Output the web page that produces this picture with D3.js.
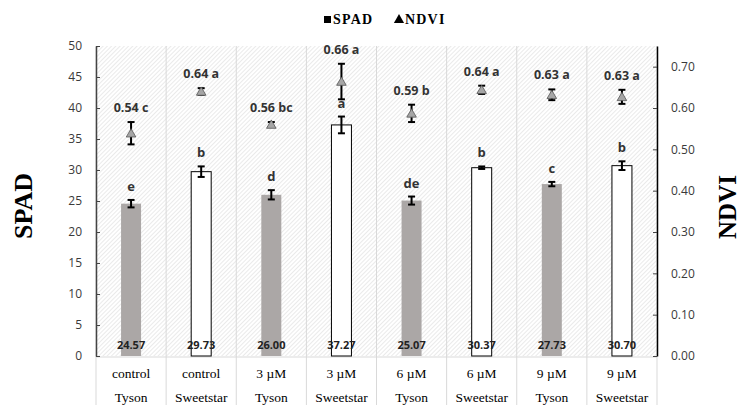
<!DOCTYPE html>
<html>
<head>
<meta charset="utf-8">
<script src="https://cdn.jsdelivr.net/npm/d3@7"></script>
<style>
  body { margin: 0; background: #fff; }
  svg { display: block; }
</style>
</head>
<body>
<div id="chart"></div>
<script>
// --- data ---
const treatments = ["control", "control", "3 µM", "3 µM", "6 µM", "6 µM", "9 µM", "9 µM"];
const cultivars = ["Tyson", "Sweetstar", "Tyson", "Sweetstar", "Tyson", "Sweetstar", "Tyson", "Sweetstar"];
const spad = [24.57, 29.73, 26.00, 37.27, 25.07, 30.37, 27.73, 30.70];
const spadErr = [0.6, 0.85, 0.75, 1.35, 0.65, 0.2, 0.35, 0.7];
const spadLetters = ["e", "b", "d", "a", "de", "b", "c", "b"];
const ndvi = [0.539, 0.640, 0.560, 0.664, 0.587, 0.644, 0.632, 0.627];
const ndviErr = [0.027, 0.008, 0.006, 0.043, 0.021, 0.010, 0.013, 0.017];
const ndviLetters = ["c", "a", "bc", "a", "b", "a", "a", "a"];
const spadTicks = [0, 5, 10, 15, 20, 25, 30, 35, 40, 45, 50];
const ndviTicks = [0, 0.1, 0.2, 0.3, 0.4, 0.5, 0.6, 0.7];

const width = 742, height = 405;
const plotL = 96, plotR = 657, plotT = 46, plotB = 356;
const sansFont = "'Open Sans', 'DejaVu Sans', sans-serif";
const serifFont = "'Liberation Serif', 'Times New Roman', serif";
const textColor = "#3a3a3a";

const svg = d3.select("#chart").append("svg")
    .attr("width", width)
    .attr("height", height);

// hatch background ("\\\" direction, very light)
const defs = svg.append("defs");
defs.append("pattern")
    .attr("id", "hatch")
    .attr("patternUnits", "userSpaceOnUse")
    .attr("width", 3).attr("height", 3)
    .attr("patternTransform", "rotate(45)")
    .append("line")
    .attr("x1", 0).attr("y1", 0).attr("x2", 0).attr("y2", 3)
    .attr("stroke", "#d6d6d6").attr("stroke-width", 1);

const idx = d3.range(treatments.length);
const x = d3.scaleBand().domain(idx).range([plotL, plotR]);
const yL = d3.scaleLinear().domain([0, 50]).range([plotB, plotT]);
const yR = d3.scaleLinear().domain([0, 0.75]).range([plotB, plotT]);
const barW = 20;

svg.append("rect")
    .attr("x", plotL).attr("y", plotT)
    .attr("width", plotR - plotL).attr("height", plotB - plotT)
    .attr("fill", "#fff");
svg.append("rect")
    .attr("x", plotL).attr("y", plotT)
    .attr("width", plotR - plotL).attr("height", plotB - plotT)
    .attr("fill", "url(#hatch)");

// category separators (plot area + label area)
svg.append("g")
    .selectAll("line")
    .data(d3.range(treatments.length + 1))
    .join("line")
    .attr("x1", i => plotL + i * x.bandwidth())
    .attr("x2", i => plotL + i * x.bandwidth())
    .attr("y1", plotT).attr("y2", height)
    .attr("stroke", "#d9d9d9").attr("stroke-width", 1);

svg.append("line")
    .attr("x1", plotL).attr("x2", plotR)
    .attr("y1", plotB + 1).attr("y2", plotB + 1)
    .attr("stroke", "#d9d9d9");

// --- SPAD bars ---
svg.append("g")
    .selectAll("rect")
    .data(idx)
    .join("rect")
    .attr("x", i => x(i) + x.bandwidth() / 2 - barW / 2)
    .attr("y", i => yL(spad[i]))
    .attr("width", barW)
    .attr("height", i => yL(0) - yL(spad[i]))
    .attr("fill", i => cultivars[i] === "Tyson" ? "#aba7a6" : "#fff")
    .attr("stroke", i => cultivars[i] === "Tyson" ? "none" : "#000")
    .attr("stroke-width", 1);

function errorBars(g, cx, yLo, yHi) {
    g.append("line")
        .attr("x1", cx).attr("x2", cx).attr("y1", yLo).attr("y2", yHi)
        .attr("stroke", "#000").attr("stroke-width", 2);
    [yLo, yHi].forEach(yy => g.append("line")
        .attr("x1", cx - 3.5).attr("x2", cx + 3.5).attr("y1", yy).attr("y2", yy)
        .attr("stroke", "#000").attr("stroke-width", 2));
}

const spadErrG = svg.append("g");
idx.forEach(i => {
    const cx = x(i) + x.bandwidth() / 2;
    errorBars(spadErrG, cx, yL(spad[i] - spadErr[i]), yL(spad[i] + spadErr[i]));
});

// SPAD letters
svg.append("g")
    .selectAll("text")
    .data(idx)
    .join("text")
    .attr("x", i => x(i) + x.bandwidth() / 2)
    .attr("y", i => yL(spad[i] + spadErr[i]) - 9)
    .attr("text-anchor", "middle")
    .style("font-family", sansFont).style("font-weight", "bold")
    .style("font-size", "13px").style("fill", "#333")
    .text(i => spadLetters[i]);

// SPAD values at the bottom
svg.append("g")
    .selectAll("text")
    .data(idx)
    .join("text")
    .attr("x", i => x(i) + x.bandwidth() / 2)
    .attr("y", plotB - 7)
    .attr("text-anchor", "middle")
    .style("font-family", sansFont).style("font-weight", "bold")
    .style("font-size", "11px").style("fill", "#222")
    .text(i => spad[i].toFixed(2));

// --- NDVI points ---
const ndviErrG = svg.append("g");
idx.forEach(i => {
    const cx = x(i) + x.bandwidth() / 2;
    errorBars(ndviErrG, cx, yR(ndvi[i] - ndviErr[i]), yR(ndvi[i] + ndviErr[i]));
});
svg.append("g")
    .selectAll("path")
    .data(idx)
    .join("path")
    .attr("d", d3.symbol(d3.symbolTriangle, 40))
    .attr("transform", i => `translate(${x(i) + x.bandwidth() / 2},${yR(ndvi[i]) + 1})`)
    .attr("fill", "#a6a6a6")
    .attr("stroke", "#555").attr("stroke-width", 0.8);

svg.append("g")
    .selectAll("text")
    .data(idx)
    .join("text")
    .attr("x", i => x(i) + x.bandwidth() / 2)
    .attr("y", i => yR(ndvi[i] + ndviErr[i]) - 10)
    .attr("text-anchor", "middle")
    .style("font-family", sansFont).style("font-weight", "bold")
    .style("font-size", "12.5px").style("fill", "#333")
    .text(i => `${ndvi[i].toFixed(2)} ${ndviLetters[i]}`);

// --- axes ---
const leftAxis = svg.append("g")
    .attr("transform", `translate(${plotL},0)`)
    .call(d3.axisLeft(yL).tickValues(spadTicks).tickSizeInner(-4).tickSizeOuter(0).tickPadding(14));
leftAxis.select(".domain").attr("stroke", "#444").attr("stroke-width", 1.5);
leftAxis.selectAll(".tick line").attr("stroke", "#444");
leftAxis.selectAll("text")
    .style("font-family", sansFont).style("font-size", "12px").style("fill", textColor);

const rightAxis = svg.append("g")
    .attr("transform", `translate(${plotR},0)`)
    .call(d3.axisRight(yR).tickValues(ndviTicks).tickFormat(d3.format(".2f"))
        .tickSizeInner(-4).tickSizeOuter(0).tickPadding(14));
rightAxis.select(".domain").attr("stroke", "#000").attr("stroke-width", 1.5);
rightAxis.selectAll(".tick line").attr("stroke", "#444");
rightAxis.selectAll("text")
    .style("font-family", sansFont).style("font-size", "12px").style("fill", textColor);

// category labels (two rows)
const catG = svg.append("g")
    .style("font-family", serifFont).style("font-size", "13.5px").style("fill", "#000");
catG.selectAll("text.treat")
    .data(idx)
    .join("text")
    .attr("class", "treat")
    .attr("x", i => x(i) + x.bandwidth() / 2)
    .attr("y", 378)
    .attr("text-anchor", "middle")
    .text(i => treatments[i]);
catG.selectAll("text.cult")
    .data(idx)
    .join("text")
    .attr("class", "cult")
    .attr("x", i => x(i) + x.bandwidth() / 2)
    .attr("y", 402)
    .attr("text-anchor", "middle")
    .text(i => cultivars[i]);

// axis titles
svg.append("text")
    .attr("transform", "translate(32,206) rotate(-90)")
    .attr("text-anchor", "middle")
    .style("font-family", serifFont).style("font-weight", "bold")
    .style("font-size", "26px").style("fill", "#000")
    .text("SPAD");
svg.append("text")
    .attr("transform", "translate(736,207) rotate(-90)")
    .attr("text-anchor", "middle")
    .style("font-family", serifFont).style("font-weight", "bold")
    .style("font-size", "25px").style("fill", "#000")
    .text("NDVI");

// legend
const legend = svg.append("g")
    .style("font-family", serifFont).style("font-weight", "bold")
    .style("font-size", "14px").style("letter-spacing", "1.2px").style("fill", "#000");
legend.append("rect").attr("x", 324).attr("y", 16).attr("width", 7).attr("height", 7).attr("fill", "#000");
legend.append("text").attr("x", 333).attr("y", 24).text("SPAD");
legend.append("path")
    .attr("d", d3.symbol(d3.symbolTriangle, 45))
    .attr("transform", "translate(399,20)")
    .attr("fill", "#000");
legend.append("text").attr("x", 405).attr("y", 24).text("NDVI");
</script>
</body>
</html>
